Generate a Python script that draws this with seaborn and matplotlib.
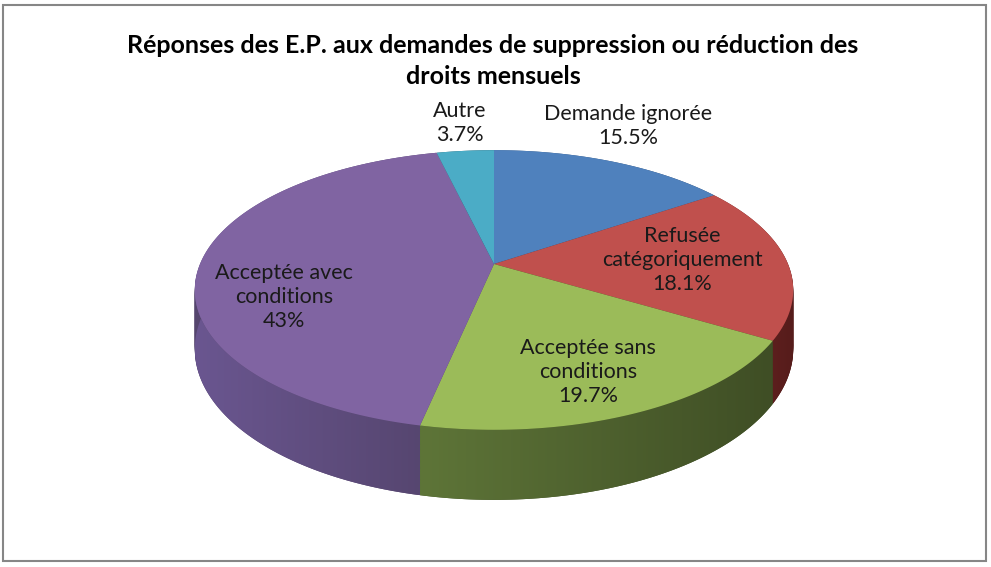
import numpy as np
import matplotlib
matplotlib.use("Agg")
import matplotlib.pyplot as plt
import seaborn as sns
from matplotlib.colors import LinearSegmentedColormap
from matplotlib.patches import Rectangle, Polygon
from matplotlib.path import Path
from matplotlib.transforms import Transform

# -- Data ----------------------------------------------------------------------
categories = ["Demande ignorée", "Refusée\ncatégoriquement", "Acceptée sans\nconditions",
              "Acceptée avec\nconditions", "Autre"]
values = [15.5, 18.1, 19.7, 43, 3.7]
title = "Réponses des E.P. aux demandes de suppression ou réduction des\ndroits mensuels"

# -- Style ---------------------------------------------------------------------
top_colors  = ["#4F81BD", "#C0504D", "#9BBB59", "#8064A2", "#4BACC6"]
side_light  = ["#3A5F8C", "#6E2624", "#5E7538", "#6A5690", "#2D6777"]
side_dark   = ["#2A4468", "#561C1B", "#3F4E25", "#55456E", "#22505D"]
label_px = [(628, 126), (682, 260), (588, 372), (284, 297), (460, 123)]  # label centres, pixels

sns.set_theme(style="white")
plt.rcParams["font.family"] = ["Lato", "DejaVu Sans"]

W, H = 991, 567
cx, cy = 494, 264          # where the slices meet (pixels, from top)
rx, ry = 294, 135          # disc radii on screen
tilt = 0.186               # perspective strength
depth = 57                 # thickness of the disc


class Perspective(Transform):
    """Maps the unit pie disc onto a tilted disc seen in perspective (pixel coords)."""
    input_dims = output_dims = 2
    is_separable = False
    has_inverse = False

    def __init__(self, z=0.0):
        super().__init__()
        self.z = z

    def transform_non_affine(self, xy):
        xy = np.asarray(xy, dtype=float)
        u, v = xy[:, 0], xy[:, 1]
        s = 1.0 / (1.0 + tilt * v)
        return np.column_stack([cx + rx * u * s, H - (cy + (self.z - ry * v) * s)])

    def transform_path_non_affine(self, path):
        t = np.linspace(0, 1, 40)
        pts = np.vstack([seg(t) for seg, _ in path.iter_bezier()])
        return Path(self.transform_non_affine(pts), closed=True)


fig = plt.figure(figsize=(W / 100, H / 100), dpi=100)
ax = fig.add_axes([0, 0, 1, 1])

# side of the disc: stacked darker pies, deepest first
for z in np.arange(depth, 0, -1.0):
    wedges, _ = ax.pie(values, colors=side_dark, startangle=90, counterclock=False,
                       wedgeprops=dict(linewidth=0))
    for w in wedges:
        w.set_transform(Perspective(z) + ax.transData)

# top face
wedges, _ = ax.pie(values, colors=top_colors, startangle=90, counterclock=False,
                   wedgeprops=dict(linewidth=0))
for w in wedges:
    w.set_transform(Perspective(0) + ax.transData)
    w.set_zorder(3)

# horizontal shading of each slice's side band
for w, c0, c1 in zip(wedges, side_light, side_dark):
    th = np.radians(np.linspace(w.theta1, w.theta2, 200))
    arc = np.column_stack([np.cos(th), np.sin(th)])
    band = np.vstack([Perspective(0).transform_non_affine(arc),
                      Perspective(depth).transform_non_affine(arc)[::-1]])
    clip = Polygon(band, closed=True, transform=ax.transData)
    grad = ax.imshow(np.linspace(0, 1, 256)[None, :], aspect="auto", zorder=2,
                     cmap=LinearSegmentedColormap.from_list("side", [c0, c1]),
                     extent=(band[:, 0].min(), band[:, 0].max(),
                             band[:, 1].min(), band[:, 1].max()),
                     interpolation="bilinear")
    grad.set_clip_path(clip)

for cat, val, (lx, ly) in zip(categories, values, label_px):
    ax.text(lx, H - ly, f"{cat}\n{val:g}%", ha="center", va="center", zorder=5,
            fontsize=15.5, color="#1a1a1a", linespacing=1.25)

ax.set_aspect("auto")
ax.set_xlim(0, W)
ax.set_ylim(0, H)
ax.axis("off")

fig.text(493 / W, 1 - 61 / H, title, ha="center", va="center",
         fontsize=18, fontweight="bold", color="black", linespacing=1.45)

fig.patches.append(Rectangle((3 / W, 6 / H), 983 / W, 556 / H, transform=fig.transFigure,
                             fill=False, edgecolor="#868686", linewidth=1.5))

fig.savefig("out.png", dpi=100)
